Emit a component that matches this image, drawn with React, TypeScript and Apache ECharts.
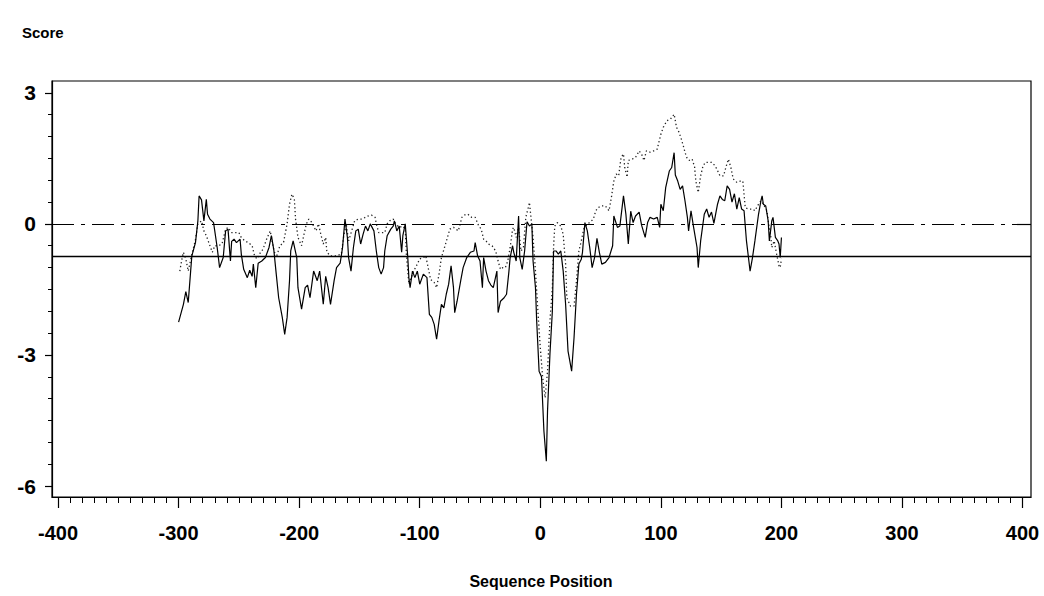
import React, { useEffect, useRef } from "react";
import * as echarts from "echarts";

// Solid profile: [position, score]
const solidPoints: number[][] = [
  [-300,-2.25],[-296,-1.84],[-294,-1.55],[-292,-1.8],[-290,-1.08],[-289,-0.73],[-286,-0.43],[-284,0.07],[-283,0.64],[-281,0.55],[-279,0.07],[-277,0.56],[-276,0.22],[-274,0.11],[-271,0.03],[-268,-0.54],[-266,-1.0],[-263,-0.77],[-261,-0.16],[-259,-0.12],[-257,-0.85],[-256,-0.4],[-254,-0.35],[-252,-0.43],[-249,-0.35],[-248,-0.69],[-246,-1.04],[-243,-1.23],[-241,-1.06],[-239,-1.2],[-238,-0.92],[-236,-1.46],[-234,-0.9],[-231,-0.85],[-228,-0.77],[-225,-0.54],[-223,-0.27],[-221,-0.6],[-219,-1.15],[-217,-1.69],[-214,-2.14],[-212,-2.53],[-210,-2.14],[-208,-1.3],[-207,-0.62],[-205,-0.39],[-202,-0.77],[-201,-1.46],[-198,-1.95],[-195,-1.46],[-193,-1.4],[-191,-1.69],[-188,-1.08],[-185,-1.3],[-183,-1.08],[-180,-1.84],[-178,-1.2],[-176,-1.46],[-174,-1.84],[-171,-1.3],[-169,-1.0],[-166,-0.9],[-164,-0.54],[-162,0.11],[-160,-0.31],[-159,-0.77],[-157,-1.08],[-155,-0.54],[-153,-0.16],[-151,-0.12],[-149,-0.46],[-147,-0.24],[-145,-0.05],[-143,-0.16],[-141,0.0],[-138,-0.16],[-136,-0.62],[-134,-1.0],[-132,-1.15],[-130,-1.0],[-129,-0.62],[-127,-0.27],[-124,-0.12],[-122,-0.05],[-121,0.07],[-119,-0.16],[-117,-0.05],[-115,-0.65],[-114,-0.27],[-112,0.0],[-110,-0.73],[-109,-1.23],[-108,-1.46],[-106,-1.08],[-104,-1.23],[-102,-1.08],[-100,-1.38],[-97,-1.15],[-94,-1.23],[-92,-2.07],[-90,-2.14],[-88,-2.3],[-86,-2.64],[-84,-2.22],[-82,-1.84],[-80,-1.92],[-78,-1.61],[-76,-1.38],[-74,-0.96],[-72,-1.46],[-71,-2.03],[-69,-1.77],[-66,-1.3],[-64,-1.0],[-61,-0.77],[-58,-0.65],[-55,-0.62],[-54,-0.43],[-52,-0.73],[-50,-0.85],[-48,-1.46],[-47,-0.77],[-45,-1.08],[-43,-1.3],[-41,-1.4],[-39,-1.46],[-36,-1.08],[-35,-2.03],[-33,-1.77],[-30,-1.69],[-28,-1.61],[-26,-1.08],[-25,-0.77],[-23,-0.5],[-22,-0.65],[-20,-0.85],[-18,0.18],[-17,-0.77],[-15,-1.04],[-13,-0.62],[-11,0.05],[-9,-0.05],[-7,0.0],[-6,-0.85],[-4,-1.46],[-3,-2.22],[-1,-3.37],[1,-3.5],[3,-4.74],[5,-5.43],[6,-4.28],[8,-2.98],[10,-2.0],[11,-0.62],[13,-0.62],[15,-0.69],[17,-0.62],[19,-1.08],[21,-1.84],[23,-2.91],[26,-3.37],[28,-2.6],[30,-1.61],[32,-0.92],[34,-0.81],[35,-0.65],[37,0.03],[39,-0.16],[41,-0.54],[43,-1.0],[45,-0.77],[47,-0.33],[49,-0.65],[51,-0.92],[54,-0.88],[57,-0.77],[60,-0.5],[61,0.18],[64,-0.08],[66,-0.05],[69,0.64],[71,0.22],[73,-0.46],[75,0.29],[77,0.03],[79,0.18],[82,0.27],[84,-0.03],[87,-0.31],[89,0.03],[91,0.15],[94,0.11],[97,0.15],[99,-0.08],[100,0.45],[102,0.3],[104,0.83],[107,1.21],[109,1.29],[111,1.63],[112,1.12],[114,0.98],[116,0.79],[118,0.87],[120,0.53],[122,0.15],[123,-0.16],[125,0.3],[127,-0.05],[130,-0.54],[131,-1.0],[133,-0.39],[136,0.22],[138,0.34],[140,0.15],[142,0.27],[144,0.01],[147,0.45],[149,0.64],[151,0.56],[153,0.53],[155,0.87],[157,0.79],[159,0.5],[161,0.69],[163,0.34],[165,0.6],[167,0.34],[169,0.3],[171,-0.39],[173,-0.85],[174,-1.08],[176,-0.77],[178,-0.39],[181,0.22],[183,0.53],[184,0.64],[185,0.45],[187,0.41],[189,0.07],[190,-0.39],[192,0.07],[193,0.15],[195,-0.31],[197,-0.39],[198,-0.46],[199,-0.77],[200,-0.31]
];

// Dotted profile: [position, score]
const dottedPoints: number[][] = [
  [-299,-1.08],[-297,-0.77],[-296,-0.65],[-294,-0.8],[-292,-1.08],[-289,-0.7],[-286,-0.36],[-284,0.0],[-281,0.07],[-279,-0.16],[-277,-0.27],[-274,-0.5],[-272,-0.65],[-270,-0.5],[-267,-0.5],[-264,-0.46],[-261,-0.12],[-259,-0.08],[-256,-0.2],[-253,-0.2],[-250,-0.2],[-248,-0.31],[-245,-0.39],[-242,-0.43],[-239,-0.5],[-237,-0.73],[-235,-0.8],[-232,-0.65],[-230,-0.58],[-227,-0.35],[-224,-0.16],[-223,-0.31],[-221,-0.6],[-219,-0.77],[-216,-0.5],[-213,-0.43],[-210,0.0],[-208,0.45],[-206,0.68],[-204,0.57],[-203,0.11],[-201,-0.31],[-198,-0.5],[-196,-0.24],[-194,0.0],[-192,0.11],[-190,0.05],[-188,-0.05],[-186,-0.16],[-184,0.0],[-182,-0.24],[-180,-0.46],[-178,-0.31],[-177,-0.65],[-174,-0.73],[-172,-0.73],[-169,-0.73],[-165,-0.69],[-163,-0.27],[-161,0.0],[-159,-0.39],[-156,-0.12],[-154,0.07],[-151,0.11],[-148,0.11],[-145,0.15],[-143,0.18],[-140,0.2],[-137,0.15],[-136,0.0],[-134,-0.2],[-131,-0.2],[-129,-0.2],[-127,0.0],[-125,0.07],[-122,0.11],[-120,0.0],[-117,-0.08],[-114,-0.05],[-112,-0.12],[-111,-0.73],[-109,-1.38],[-108,-1.3],[-105,-1.08],[-102,-0.92],[-100,-0.8],[-97,-0.77],[-95,-0.73],[-93,-1.0],[-91,-1.27],[-88,-1.34],[-86,-1.46],[-84,-1.15],[-82,-0.77],[-79,-0.5],[-77,-0.31],[-75,-0.12],[-72,-0.08],[-70,-0.12],[-68,-0.16],[-65,0.15],[-62,0.22],[-60,0.22],[-57,0.15],[-54,0.15],[-51,-0.05],[-49,-0.12],[-47,-0.35],[-45,-0.39],[-43,-0.46],[-40,-0.5],[-37,-0.62],[-35,-0.85],[-33,-1.04],[-31,-1.0],[-29,-1.0],[-27,-0.85],[-25,-0.54],[-23,-0.12],[-22,-0.08],[-20,-0.31],[-18,-0.08],[-16,-0.62],[-14,-0.54],[-12,0.15],[-10,0.37],[-9,0.49],[-8,0.22],[-6,-0.31],[-4,-1.08],[-2,-1.99],[0,-2.83],[2,-3.52],[4,-3.98],[6,-3.37],[8,-2.22],[10,-1.46],[11,-0.54],[12,-0.05],[14,0.03],[17,-0.05],[19,-0.24],[21,-0.92],[22,-1.69],[25,-1.88],[28,-1.88],[30,-1.3],[32,-0.62],[34,-0.39],[36,-0.12],[39,0.0],[41,0.03],[44,0.11],[46,0.3],[48,0.37],[50,0.41],[54,0.41],[57,0.3],[59,0.61],[61,0.98],[63,1.14],[65,1.1],[67,1.52],[69,1.6],[70,1.3],[72,1.07],[73,1.45],[76,1.48],[79,1.52],[82,1.67],[84,1.6],[86,1.45],[88,1.67],[91,1.64],[94,1.67],[97,1.71],[98,1.83],[100,2.05],[102,2.21],[105,2.36],[108,2.4],[111,2.51],[113,2.21],[115,2.1],[117,1.94],[119,1.75],[120,1.64],[122,1.48],[124,1.45],[126,1.48],[128,1.3],[129,0.98],[131,0.72],[133,1.1],[135,1.33],[137,1.41],[140,1.41],[142,1.41],[145,1.33],[147,1.22],[149,1.1],[152,1.1],[154,1.3],[156,1.48],[158,1.3],[160,1.03],[163,0.95],[166,0.98],[168,0.98],[170,0.37],[173,0.34],[176,0.34],[178,0.3],[181,0.45],[183,0.53],[185,0.45],[188,0.3],[189,0.07],[191,-0.24],[192,-0.54],[194,-0.39],[196,-0.69],[198,-0.96],[199,-1.0],[200,-0.8]
];

// Reference lines
const dashDotLevel = 0;
const solidLevel = -0.75;

// Tick labels
const xTickLabels = [-400, -300, -200, -100, 0, 100, 200, 300, 400];
const yTickLabels = [-6, -3, 0, 3];

const FONT = "'Liberation Sans', Arial, Helvetica, sans-serif";

function range(a: number, b: number, step: number): number[] {
  const out: number[] = [];
  for (let v = a; v <= b + 1e-9; v += step) out.push(Math.round(v * 100) / 100);
  return out;
}

export default function App() {
  const ref = useRef<HTMLDivElement>(null);

  useEffect(() => {
    if (!ref.current) return;
    const chart = echarts.init(ref.current, null, { renderer: "svg" });
    const xMin = -405, xMax = 407, yMin = -6.25, yMax = 3.27;
    const xMinor = range(-400, 400, 10);
    const yMinor = range(-6, 3, 0.5);
    const axisLineStyle = { color: "#000", width: 1.2 };
    const labelStyle = { color: "#000", fontFamily: FONT, fontWeight: "bold" as const, fontSize: 20 };

    chart.setOption({
      animation: false,
      backgroundColor: "#fff",
      grid: { left: 52, right: 13, top: 81, bottom: 99, show: true, borderColor: "#000", borderWidth: 1.2, containLabel: false },
      graphic: [
        { type: "text", left: 22, top: 25, style: { text: "Score", font: `bold 15px ${FONT}`, fill: "#000" } },
        { type: "text", x: 541, y: 581, style: { text: "Sequence Position", font: `bold 16px ${FONT}`, fill: "#000", align: "center", verticalAlign: "middle" } },
      ],
      xAxis: [
        {
          type: "value", min: xMin, max: xMax, position: "bottom",
          axisLine: { show: true, onZero: false, lineStyle: axisLineStyle },
          axisTick: { show: true, length: 6, customValues: xMinor, lineStyle: { color: "#000", width: 1 } },
          axisLabel: { show: false },
          splitLine: { show: false },
        },
        {
          type: "value", min: xMin, max: xMax, position: "bottom",
          axisLine: { show: false, onZero: false },
          axisTick: { show: true, length: 11, customValues: xTickLabels, lineStyle: { color: "#000", width: 1.2 } },
          axisLabel: { show: true, customValues: xTickLabels, margin: 26, ...labelStyle },
          splitLine: { show: false },
        },
      ],
      yAxis: [
        {
          type: "value", min: yMin, max: yMax, position: "left",
          axisLine: { show: true, onZero: false, lineStyle: axisLineStyle },
          axisTick: { show: true, length: 4, customValues: yMinor, lineStyle: { color: "#000", width: 1 } },
          axisLabel: { show: false },
          splitLine: { show: false },
        },
        {
          type: "value", min: yMin, max: yMax, position: "left",
          axisLine: { show: false, onZero: false },
          axisTick: { show: true, length: 7, customValues: yTickLabels, lineStyle: { color: "#000", width: 1.2 } },
          axisLabel: { show: true, customValues: yTickLabels, margin: 16, ...labelStyle, fontSize: 21 },
          splitLine: { show: false },
        },
      ],
      series: [
        {
          type: "line", xAxisIndex: 0, yAxisIndex: 0, data: dottedPoints,
          showSymbol: false, symbol: "none",
          lineStyle: { color: "#222", width: 1.3, type: [1.3, 2.6] },
          z: 2,
        },
        {
          type: "line", xAxisIndex: 0, yAxisIndex: 0, data: solidPoints,
          showSymbol: false, symbol: "none",
          lineStyle: { color: "#000", width: 1.2 },
          z: 3,
          markLine: {
            silent: true, symbol: "none", label: { show: false },
            data: [
              { yAxis: dashDotLevel, lineStyle: { color: "#000", width: 1.2, type: [22, 7, 4, 7] } },
              { yAxis: solidLevel, lineStyle: { color: "#000", width: 1.3, type: "solid" } },
            ],
          },
        },
      ],
    });
    return () => chart.dispose();
  }, []);

  return <div ref={ref} style={{ position: "fixed", left: 0, top: 0, width: 1044, height: 596 }} />;
}
